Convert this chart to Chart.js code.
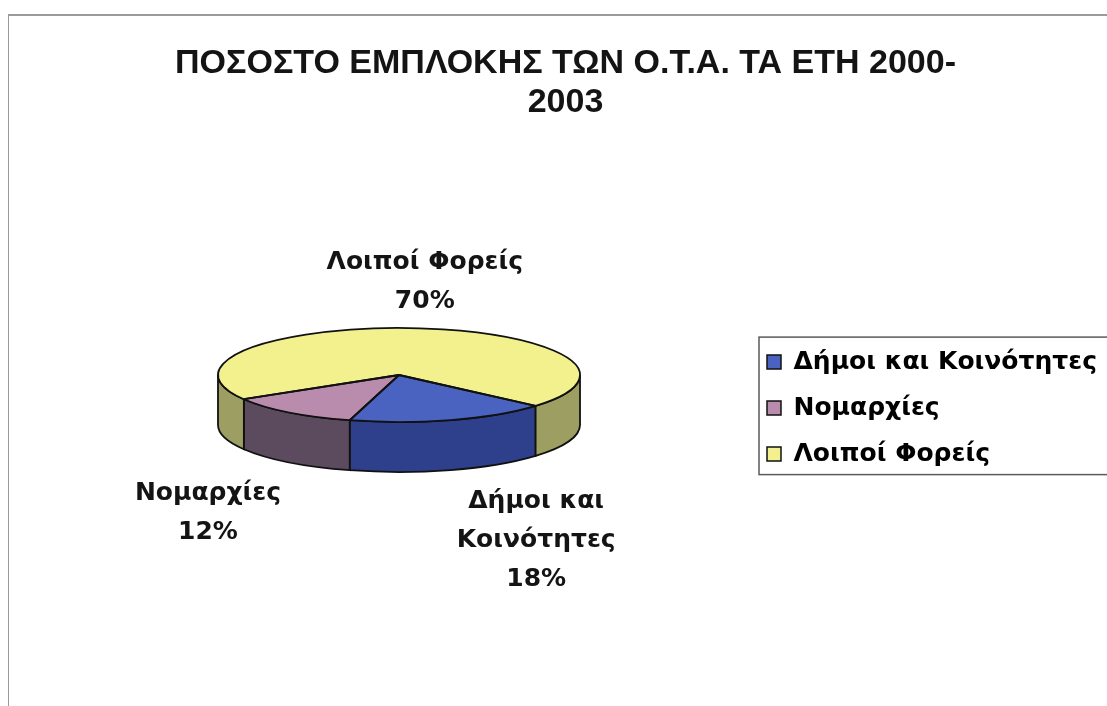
<!DOCTYPE html>
<html>
<head>
<meta charset="utf-8">
<script src="https://cdn.jsdelivr.net/npm/chart.js@4.4.0/dist/chart.umd.min.js"></script>
<style>
    html, body { margin: 0; padding: 0; background: #fff; }
    #wrap { position: relative; width: 1107px; height: 706px; overflow: hidden; }
    #frame { position: absolute; left: 8px; top: 14px; width: 1200px; height: 800px;
             border-left: 1px solid #9a9a9a; border-top: 2px solid #9a9a9a; }
    #pie { position: absolute; left: 0; top: 0; }
</style>
</head>
<body>
<div id="wrap">
    <div id="frame"></div>
    <canvas id="pie" width="1107" height="706"></canvas>
</div>
<script>
const titleLines = ['ΠΟΣΟΣΤΟ ΕΜΠΛΟΚΗΣ ΤΩΝ Ο.Τ.Α. ΤΑ ΕΤΗ 2000-', '2003'];
const categories = ['Δήμοι και Κοινότητες', 'Νομαρχίες', 'Λοιποί Φορείς'];
const shares = [18, 12, 70];

// colours of the top faces and of the side walls
const topColors = ['#4a63c0', '#b98cae', '#f3f18e'];
const sideColors = ['#2e3f8c', '#5c4b5e', '#9d9e62'];

// where the tilted pie sits on the page
const PIE = { cx: 399, cy: 375, rx: 181, ry: 47, depth: 50 };
const wideFont = "'DejaVu Sans', Verdana, sans-serif";
const labelFont = "bold 25px " + wideFont;
const legendSize = 25;
const legendPad = 21;

Chart.defaults.font.family = "'Liberation Sans', Arial, sans-serif";

// legend squares should start near x=767, the text runs off the right edge
const mctx = document.createElement('canvas').getContext('2d');
mctx.font = 'bold ' + legendSize + 'px ' + wideFont;
const legendText = Math.max(...categories.map(c => mctx.measureText(c).width));
const legendWidth = 14 + legendSize / 2 + legendText + 2 * legendPad;
const padRight = 1107 - 756 + legendPad - legendWidth;
const padLeft = 24 + padRight;

function frontParts(a, b) {
    // pieces of [a, b] that lie on the front half (0..PI, mod 2PI)
    const parts = [];
    for (let k = -1; k <= 2; k++) {
        const lo = Math.max(a, k * 2 * Math.PI);
        const hi = Math.min(b, k * 2 * Math.PI + Math.PI);
        if (hi > lo) parts.push([lo, hi]);
    }
    return parts;
}

function wrapText(ctx, text, maxWidth) {
    const words = text.split(' ');
    const lines = [];
    let line = '';
    words.forEach(w => {
        const test = line ? line + ' ' + w : w;
        if (ctx.measureText(test).width > maxWidth && line) {
            lines.push(line);
            line = w;
        } else {
            line = test;
        }
    });
    lines.push(line);
    return lines;
}

const pie3d = {
    id: 'pie3d',
    beforeDatasetsDraw(chart) {
        const ctx = chart.ctx;
        const arcs = chart.getDatasetMeta(0).data;

        // side walls
        arcs.forEach((el, i) => {
            frontParts(el.startAngle, el.endAngle).forEach(([a, b]) => {
                ctx.save();
                ctx.beginPath();
                ctx.ellipse(PIE.cx, PIE.cy, PIE.rx, PIE.ry, 0, a, b);
                ctx.ellipse(PIE.cx, PIE.cy + PIE.depth, PIE.rx, PIE.ry, 0, b, a, true);
                ctx.closePath();
                ctx.fillStyle = sideColors[i];
                ctx.fill();
                ctx.lineWidth = 1.8;
                ctx.strokeStyle = '#111';
                ctx.stroke();
                ctx.restore();
            });
        });

        // squash the library's pie into the tilted top face
        const { x, y, outerRadius } = arcs[0];
        const s = PIE.rx / outerRadius;
        ctx.save();
        ctx.translate(PIE.cx, PIE.cy);
        ctx.scale(s, s * PIE.ry / PIE.rx);
        ctx.translate(-x, -y);
    },
    afterDatasetsDraw(chart) {
        const ctx = chart.ctx;
        ctx.restore();
        const arcs = chart.getDatasetMeta(0).data;

        // outlines of the top face
        arcs.forEach(el => {
            ctx.save();
            ctx.beginPath();
            ctx.moveTo(PIE.cx, PIE.cy);
            ctx.ellipse(PIE.cx, PIE.cy, PIE.rx, PIE.ry, 0, el.startAngle, el.endAngle);
            ctx.closePath();
            ctx.lineWidth = 1.8;
            ctx.strokeStyle = '#111';
            ctx.lineJoin = 'round';
            ctx.stroke();
            ctx.restore();
        });

        // data labels outside the pie
        ctx.save();
        ctx.font = labelFont;
        ctx.fillStyle = '#141414';
        ctx.textAlign = 'center';
        ctx.textBaseline = 'middle';
        const lh = 39;
        arcs.forEach((el, i) => {
            const mid = (el.startAngle + el.endAngle) / 2;
            const c = Math.cos(mid), sn = Math.sin(mid);
            const px = PIE.cx + PIE.rx * c;
            const py = PIE.cy + PIE.ry * sn + (sn > 0 ? PIE.depth : 0);
            const lines = wrapText(ctx, categories[i], 220);
            lines.push(shares[i] + '%');
            const bw = Math.max(...lines.map(l => ctx.measureText(l).width));
            const bh = lines.length * lh;
            let mx = px + 10;
            if (c > 0.2) mx = px + 6 + bw / 2;
            if (c < -0.2) mx = px - 8 - bw / 2;
            const top = sn > 0 ? py + 12 : py - 7 - bh;
            lines.forEach((l, j) => ctx.fillText(l, mx, top + lh * (j + 0.5)));
        });
        ctx.restore();
    },
    afterDraw(chart) {
        // frame round the legend (its right side runs off the page)
        const hb = chart.legend.legendHitBoxes;
        const first = hb[0], last = hb[hb.length - 1];
        const ctx = chart.ctx;
        const top = first.top - 12.5;
        const bottom = last.top + last.height + 8;
        ctx.save();
        ctx.strokeStyle = '#5a5a5a';
        ctx.lineWidth = 1.5;
        ctx.strokeRect(first.left - 8, top, 600, bottom - top);
        ctx.restore();
    }
};

new Chart(document.getElementById('pie'), {
    type: 'pie',
    data: {
        labels: categories,
        datasets: [{
            data: shares,
            backgroundColor: topColors,
            borderWidth: 0
        }]
    },
    options: {
        responsive: false,
        animation: false,
        events: [],
        rotation: 131,
        layout: { padding: { left: padLeft, right: padRight, top: 0, bottom: 22 } },
        plugins: {
            title: {
                display: true,
                text: titleLines,
                color: '#141414',
                font: { size: 34, weight: 'bold', lineHeight: 1.15 },
                padding: { top: 44, bottom: 10 }
            },
            legend: {
                position: 'right',
                fullSize: false,
                labels: {
                    color: '#141414',
                    font: { size: legendSize, weight: 'bold', family: wideFont },
                    boxWidth: 14,
                    boxHeight: 14,
                    padding: legendPad,
                    generateLabels: () => categories.map((c, i) => ({
                        text: c,
                        fillStyle: topColors[i],
                        strokeStyle: '#111',
                        lineWidth: 1.5,
                        hidden: false,
                        index: i
                    }))
                }
            },
            tooltip: { enabled: false }
        }
    },
    plugins: [pie3d]
});
</script>
</body>
</html>
